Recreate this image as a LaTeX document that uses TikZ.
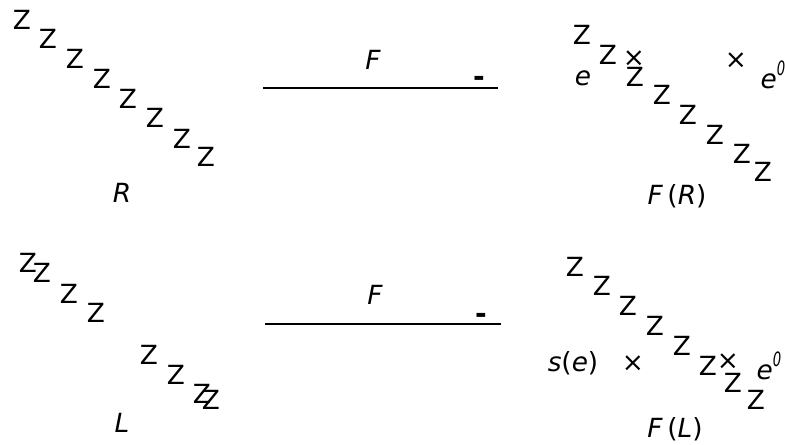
\documentclass[tikz,border=0pt]{standalone}
\usepackage{fontspec}
\setmainfont{DejaVu Sans}
\usepackage{tikz}
\usetikzlibrary{positioning}
\newcommand{\eprime}{{\itshape e}\raisebox{0.9ex}{\scalebox{0.5}[0.75]{\itshape 0}}}
\tikzset{
  zig/.style={inner sep=0pt, font=\fontsize{15}{17}\selectfont},
  obj/.style={inner sep=0pt, font=\fontsize{15}{17}\selectfont\itshape},
  pt/.style={inner sep=0pt, font=\fontsize{15}{17}\selectfont},
  tip/.style={inner sep=0pt, font=\fontsize{16}{18}\selectfont\bfseries},
  elt/.style={inner sep=0pt, font=\fontsize{15}{18}\selectfont\itshape},
  bar/.style={line width=1.1pt},
}

\begin{document}
\begin{tikzpicture}[x=0.02cm, y=-0.02cm]
\useasboundingbox (0,0) rectangle (785,444);

% R
\foreach \x/\y [count=\i] in {22/20, 48/39, 75/59, 102/79, 128/99, 155/118, 182/139, 206/157}
  \node[zig] (rz\i) at (\x,\y) {Z};
\node[obj] (R) at (122,193) {R};

% F(R)
\foreach \x/\y [count=\i] in {582/35, 608/55, 635/77, 662/95, 688/115, 715/135, 742/154, 763/172}
  \node[zig] (frz\i) at (\x,\y) {Z};
\node[pt] (frx1) at (634,59) {×};
\node[pt] (frx2) at (736,61) {×};
\node[elt] (fre) at (583,78) {e};
\node[elt] (frep) at (773,75) {\eprime};
\node[pt] (FR) at (677,196) {\textit{F}\,(\textit{R})};

% top arrow
\coordinate (ta1) at (263,88);
\coordinate (ta2) at (498,88);
\draw[bar] (ta1) -- (ta2);
\node[tip] (tah) at (479,81) {-};
\node[obj] (tF) at (373,60) {F};

% L
\foreach \x/\y [count=\i] in {28/263, 42/273, 69/294, 96/313, 149/355, 176/375, 202/394, 211/400}
  \node[zig] (lz\i) at (\x,\y) {Z};
\node[obj] (L) at (122,423) {L};

% F(L)
\foreach \x/\y [count=\i] in {575/267, 602/286, 628/306, 655/326, 682/346, 708/366, 733/383, 756/400}
  \node[zig] (flz\i) at (\x,\y) {Z};
\node[elt] (fls) at (573,363) {s\upshape(\itshape e\upshape)};
\node[pt] (flx1) at (633,364) {×};
\node[pt] (flx2) at (728,362) {×};
\node[elt] (flep) at (769,366) {\eprime};
\node[pt] (FL) at (675,429) {\textit{F}\,(\textit{L})};

% bottom arrow
\coordinate (ba1) at (265,324);
\coordinate (ba2) at (501,324);
\draw[bar] (ba1) -- (ba2);
\node[tip] (bah) at (481,318) {-};
\node[obj] (bF) at (375,295) {F};

\end{tikzpicture}
\end{document}
